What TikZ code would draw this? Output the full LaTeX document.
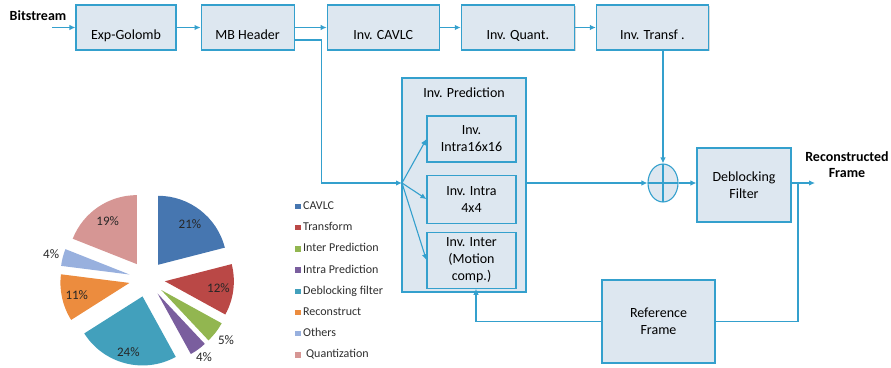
\documentclass[tikz,border=0pt]{standalone}
\usepackage{fontspec}
\setmainfont{Carlito}
\usetikzlibrary{%
  positioning,
  arrows.meta,
  shapes.geometric,
  shadows,
}

\definecolor{boxline}{RGB}{52,160,205}
\definecolor{boxfill}{RGB}{221,231,240}
\definecolor{pcavlc}{RGB}{70,118,176}
\definecolor{ptransf}{RGB}{186,72,70}
\definecolor{pinter}{RGB}{146,182,80}
\definecolor{pintra}{RGB}{122,94,158}
\definecolor{pdeblk}{RGB}{66,160,188}
\definecolor{precon}{RGB}{236,140,62}
\definecolor{pother}{RGB}{152,176,222}
\definecolor{pquant}{RGB}{214,150,148}

\tikzset{
  boxbase/.style = {
    rectangle, line width = 1.1pt,
    draw = boxline, fill = boxfill,
    font = \fontsize{14}{17}\selectfont,
    drop shadow = {shadow xshift = 1.2pt, shadow yshift = -1.2pt,
                   fill = black, opacity = 0.15},
  },
  topbox/.style = {boxbase, minimum height = 45pt,
                   text height = 27pt, text depth = 3pt},
  blk/.style = {boxbase, align = center, inner sep = 1pt},
  summer/.style = {
    ellipse, line width = 1.1pt,
    draw = boxline, fill = boxfill,
    minimum width = 30pt, minimum height = 38pt,
    path picture = {
      \draw[boxline, line width = 1.1pt]
        (path picture bounding box.north) -- (path picture bounding box.south)
        (path picture bounding box.west) -- (path picture bounding box.east);
    },
  },
  flow/.style = {draw = boxline, line width = 1.1pt,
                 -{Latex[length = 6pt, width = 5.5pt]}},
  wire/.style = {draw = boxline, line width = 1.1pt},
  title/.style = {font = \bfseries\fontsize{14}{16}\selectfont, align = center},
  legmark/.style = {rectangle, minimum size = 5.5pt, inner sep = 0pt},
  legtext/.style = {font = \fontsize{12}{14}\selectfont, text = black!82,
                    inner sep = 0pt, text height = 8.5pt, text depth = 2.5pt},
  pct/.style = {font = \fontsize{13}{15}\selectfont, text = black!85},
}

\begin{document}
\begin{tikzpicture}[x = 1pt, y = -1pt]
        \useasboundingbox (0,0) rectangle (891,367);

        \node[title] (bits) at (38,16) {Bitstream};
        \coordinate (bsin) at (52,27.5);

        \node[topbox, minimum width = 100pt] (golomb) at (126,27.5) {Exp-Golomb};
        \node[topbox, minimum width = 93pt, right = 24pt of golomb] (mbhead) {MB Header};
        \node[topbox, minimum width = 112pt, right = 32pt of mbhead] (cavlc) {Inv. CAVLC};
        \node[topbox, minimum width = 113pt, right = 21pt of cavlc] (quant) {Inv. Quant.};
        \node[topbox, minimum width = 112pt, right = 21pt of quant] (transf) {Inv. Transf .};

        \node[boxbase, minimum width = 124pt, minimum height = 214pt] (pred) at (464,185) {};
        \node[font = \fontsize{14}{17}\selectfont] (predtitle) at (464,93) {Inv. Prediction};
        \node[blk, minimum width = 89pt, minimum height = 46pt] (intra16) at (471.5,139) {Inv.\\Intra16x16};
        \node[blk, minimum width = 89pt, minimum height = 48pt, below = 12pt of intra16] (intra4) {Inv. Intra\\4x4};
        \node[blk, minimum width = 89pt, minimum height = 56pt, below = 8pt of intra4] (inter) {Inv. Inter\\(Motion\\comp.)};
        \coordinate (fork) at (402,183);

        \node[summer] (adder) at (663,183) {};
        \node[blk, minimum width = 94pt, minimum height = 74pt] (deblock) at (744,185) {Deblocking\\Filter};
        \node[blk, minimum width = 113pt, minimum height = 83pt] (refframe) at (658.5,321.5) {Reference\\Frame};
        \node[title] (recon) at (847,165) {Reconstructed\\Frame};
        \coordinate (out) at (815,183);
        \coordinate (tap) at (798,183);

        \draw[flow] (bsin) -- (golomb);
        \draw[flow] (golomb) -- (mbhead);
        \draw[flow] (mbhead) -- (cavlc);
        \draw[flow] (cavlc) -- (quant);
        \draw[flow] (quant) -- (transf);
        \draw[flow] ([yshift = -12.5pt]mbhead.east) -- ++(27,0) |- (fork);
        \draw[flow] (fork) -- (intra16.west);
        \draw[flow] (fork) -- (intra4.west);
        \draw[flow] (fork) -- (inter.west);
        \draw[flow] (pred.east |- adder) -- (adder);
        \draw[flow] (transf.south -| adder) -- (adder);
        \draw[flow] (adder.east) -- (adder -| deblock.west);
        \draw[flow] (adder -| deblock.east) -- (out);
        \draw[wire] (tap) |- (refframe);
        \draw[flow] (refframe) -| ([xshift = 4.5pt]inter.south);

        \begin{scope}[shift = {(147,279)}, y = 1pt]
          \xdef\angA{90}
          \foreach \val/\col/\ldist [count = \i] in
            {21/pcavlc/70, 12/ptransf/72, 5/pinter/100, 4/pintra/97,
             24/pdeblk/75, 11/precon/72, 4/pother/99, 19/pquant/70}{
            \pgfmathsetmacro\angB{\angA-3.6*\val}
            \pgfmathsetmacro\angM{(\angA+\angB)/2}
            \fill[\col] (\angM:18pt) -- ++(\angA:69pt)
              arc[start angle = \angA, end angle = \angB, radius = 69pt] -- cycle;
            \node[pct] (pct\i) at (\angM:\ldist pt) {\val\%};
            \global\let\angA\angB
          }
        \end{scope}

        \foreach \name/\col [count = \i] in
          {CAVLC/pcavlc, Transform/ptransf, Inter Prediction/pinter,
           Intra Prediction/pintra, Deblocking filter/pdeblk,
           Reconstruct/precon, Others/pother, \hspace{3pt}Quantization/pquant}{
          \node[legmark, fill = \col] (mark\i) at (298,{185.3+21.2*\i}) {};
          \node[legtext, right = 2pt of mark\i] (leg\i) {\name};
        }
      \end{tikzpicture}
\end{document}
